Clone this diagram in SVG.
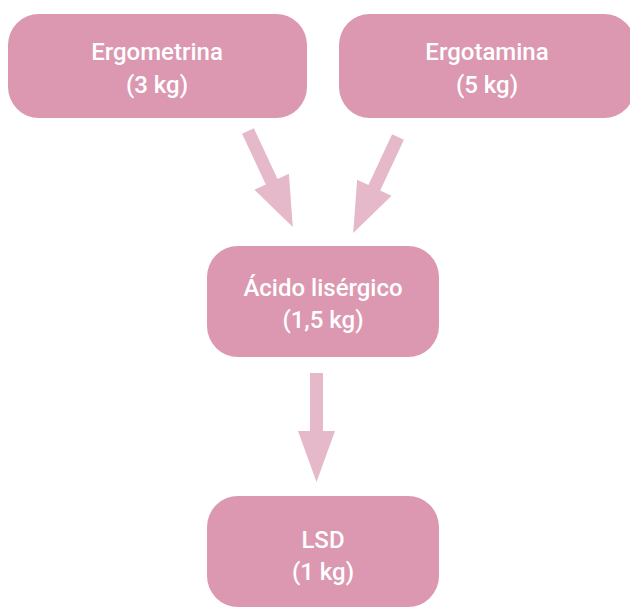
<svg xmlns="http://www.w3.org/2000/svg" width="630" height="608" viewBox="0 0 630 608">
  <style>
    .box { fill: #DB98B0; }
    .arrow { fill: #E5B8CA; }
    .label { font-family: Roboto, "Open Sans", "DejaVu Sans", sans-serif; font-size: 24px; font-weight: 500; fill: #FFFFFF; text-anchor: middle; }
  </style>
  <defs>
    <polygon id="diagArrow" points="-6.5,0 6.5,0 6.5,56 19,56 0,106 -19,56 -6.5,56"/>
  </defs>
  <rect width="630" height="608" fill="#FFFFFF"/>

  <g id="connectors">
    <use href="#diagArrow" class="arrow" transform="translate(248,131) rotate(-25)"/>
    <use href="#diagArrow" class="arrow" transform="translate(398,137) rotate(25)"/>
    <polygon class="arrow" points="310,373 323,373 323,431 335,431 316.5,482 298,431 310,431"/>
  </g>

  <g id="ergometrina">
    <rect class="box" x="8" y="14" width="299" height="104" rx="31" ry="31"/>
    <text class="label" x="157" y="60">Ergometrina</text>
    <text class="label" x="157" y="93">(3 kg)</text>
  </g>

  <g id="ergotamina">
    <rect class="box" x="339" y="14" width="296" height="104" rx="31" ry="31"/>
    <text class="label" x="487" y="60">Ergotamina</text>
    <text class="label" x="487" y="93">(5 kg)</text>
  </g>

  <g id="acido-lisergico">
    <rect class="box" x="207" y="246" width="232" height="111" rx="31" ry="31"/>
    <text class="label" x="323" y="296">Ácido lisérgico</text>
    <text class="label" x="323" y="328">(1,5 kg)</text>
  </g>

  <g id="lsd">
    <rect class="box" x="207" y="496" width="232" height="111" rx="31" ry="31"/>
    <text class="label" x="323" y="548">LSD</text>
    <text class="label" x="323" y="580">(1 kg)</text>
  </g>
</svg>
